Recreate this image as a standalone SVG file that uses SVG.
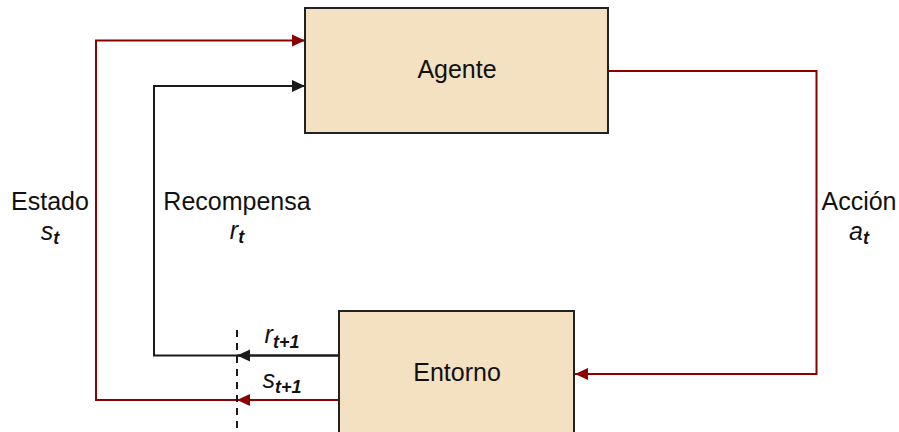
<svg xmlns="http://www.w3.org/2000/svg" width="899" height="432" viewBox="0 0 899 432">
<style>
.box{fill:#F3E1C1;stroke:#222;stroke-width:2}
.t{font-family:"Liberation Sans",Arial,sans-serif;font-size:25px;fill:#111;text-anchor:middle}
.i{font-style:italic}
.sub{font-style:italic;font-weight:bold;font-size:18px}
.red{fill:none;stroke:#8B0000;stroke-width:2}
.blk{fill:none;stroke:#1a1a1a;stroke-width:2}
.dash{fill:none;stroke:#1a1a1a;stroke-width:2;stroke-dasharray:7,6}
</style>
<defs>
<marker id="ar" markerUnits="userSpaceOnUse" markerWidth="14" markerHeight="14" viewBox="0 0 14 14" refX="13" refY="7" orient="auto">
<path d="M0,1 L13,7 L0,13 Z" fill="#8B0000"/>
</marker>
<marker id="ab" markerUnits="userSpaceOnUse" markerWidth="14" markerHeight="14" viewBox="0 0 14 14" refX="13" refY="7" orient="auto">
<path d="M0,1 L13,7 L0,13 Z" fill="#1a1a1a"/>
</marker>
</defs>
<g id="connectors">
<path class="red" d="M608,71 H816.5 V374 H575" marker-end="url(#ar)"/>
<path class="red" d="M339,400 H96 V40.5 H305" marker-end="url(#ar)"/>
<path class="blk" d="M339,355.5 H154 V86 H305" marker-end="url(#ab)"/>
<path class="red" d="M339,400 H237" marker-end="url(#ar)"/>
<path class="blk" d="M339,355.5 H237" marker-end="url(#ab)"/>
<path class="dash" d="M237,330 V432"/>
</g>
<g id="agente">
<rect class="box" x="305" y="8" width="303" height="125"/>
<text class="t" x="457" y="78">Agente</text>
</g>
<g id="entorno">
<rect class="box" x="339" y="311" width="235" height="140"/>
<text class="t" x="457" y="381">Entorno</text>
</g>
<g id="labels">
<text class="t" x="50" y="210">Estado</text>
<text class="t" x="50" y="240"><tspan class="i">s</tspan><tspan class="sub" dy="4">t</tspan></text>
<text class="t" x="237" y="210">Recompensa</text>
<text class="t" x="237" y="239"><tspan class="i">r</tspan><tspan class="sub" dy="4">t</tspan></text>
<text class="t" x="859" y="210">Acción</text>
<text class="t" x="859" y="240"><tspan class="i">a</tspan><tspan class="sub" dy="4">t</tspan></text>
<text class="t" x="282" y="343"><tspan class="i">r</tspan><tspan class="sub" dy="5">t+1</tspan></text>
<text class="t" x="282" y="388"><tspan class="i">s</tspan><tspan class="sub" dy="5">t+1</tspan></text>
</g>
</svg>
